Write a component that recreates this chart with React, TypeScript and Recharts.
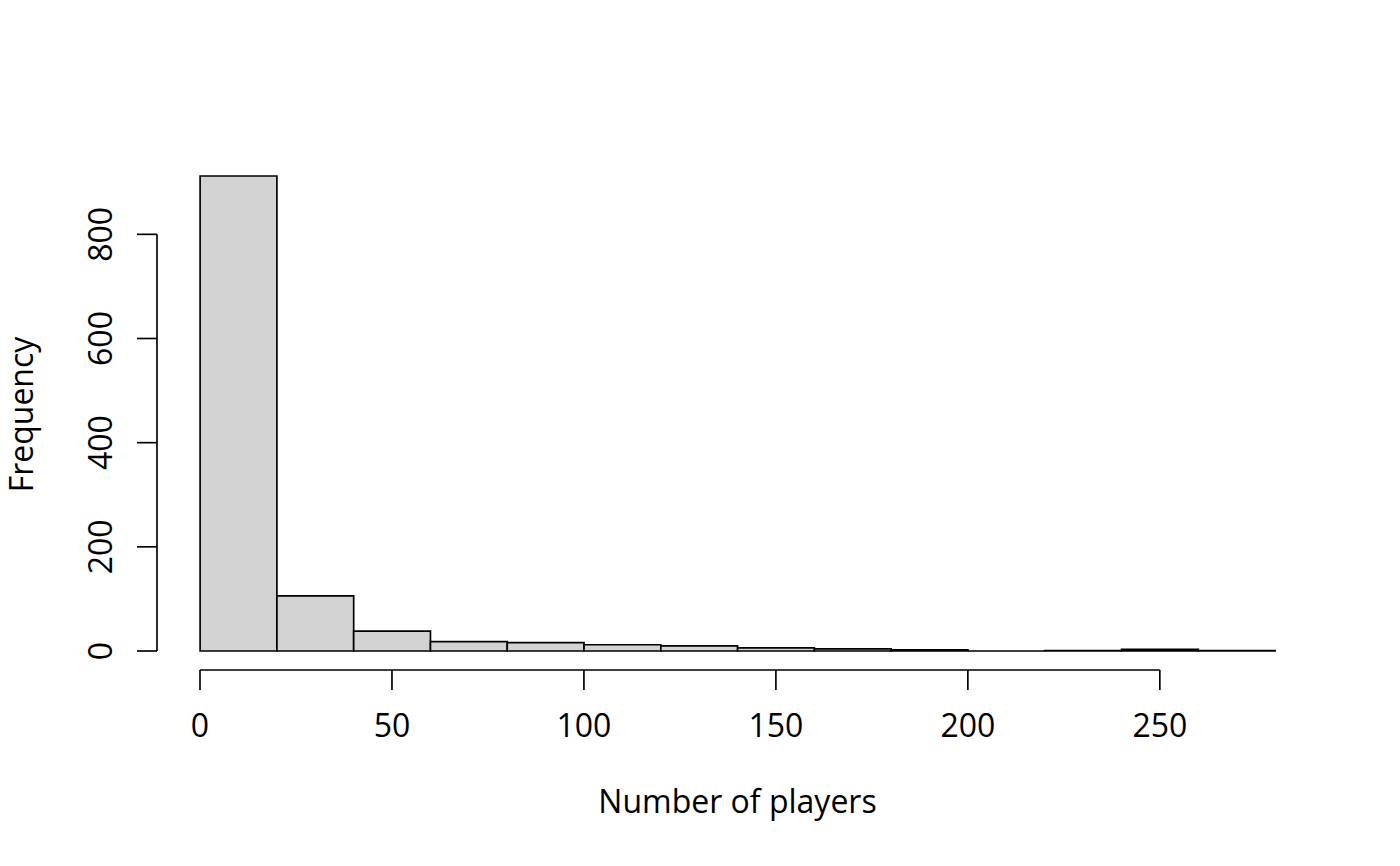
import React from 'react';
import { ComposedChart, Bar, XAxis, YAxis, ReferenceLine } from 'recharts';

const binStarts = [0, 20, 40, 60, 80, 100, 120, 140, 160, 180, 200, 220, 240, 260];
const binWidth = 20;
const frequencies = [912, 106, 38, 18, 16, 12, 10, 6, 4, 2, 0, 1, 3, 1];
const xTicks = [0, 50, 100, 150, 200, 250];
const yTicks = [0, 200, 400, 600, 800];
const xLabel = 'Number of players';
const yLabel = 'Frequency';

const data = binStarts.map((s, i) => ({ mid: s + binWidth / 2, freq: frequencies[i] }));

const xMin = -11.2;
const xMax = 291.2;
const yMax = Math.max(...frequencies);
const yLo = -0.04 * yMax;
const yHi = 1.04 * yMax;

const W = 1400;
const H = 866;
const PL = 157, PR = 82, PT = 157, PB = 196;
const AX = 1;
const M = { top: PT, right: PR, left: PL - AX, bottom: PB - AX };
const plotW = W - PL - PR;
const barPx = (binWidth / (xMax - xMin)) * plotW;

const FONT = '"Open Sans", "Noto Sans", sans-serif';
const FS = 32;
const LW = 1.67;

const HistShape = (props: any) => {
  const { x, y, width, height } = props;
  const cx = x + width / 2;
  const left = cx - barPx / 2;
  const d = `M${left},${y}h${barPx}v${height}h${-barPx}Z`;
  return <path d={d} fill="#d3d3d3" stroke="#000" strokeWidth={LW} />;
};

const XTick = (props: any) => {
  const { x, y, payload } = props;
  return (
    <g>
      <line x1={x} y1={y} x2={x} y2={y + 20} stroke="#000" strokeWidth={LW} />
      <text x={x} y={y + 67} textAnchor="middle" fontFamily={FONT} fontSize={FS} fill="#000">
        {payload.value}
      </text>
    </g>
  );
};

const YTick = (props: any) => {
  const { x, y, payload } = props;
  const tx = x - 45;
  return (
    <g>
      <line x1={x - 20} y1={y} x2={x} y2={y} stroke="#000" strokeWidth={LW} />
      <text
        x={tx}
        y={y}
        textAnchor="middle"
        transform={`rotate(-90 ${tx} ${y})`}
        fontFamily={FONT}
        fontSize={FS}
        fill="#000"
      >
        {payload.value}
      </text>
    </g>
  );
};

export default function App() {
  const yMid = (PT + H - PB) / 2 + 1;
  return (
    <div style={{ position: 'absolute', left: 0, top: 0, width: W, height: H, background: '#fff' }}>
      <ComposedChart width={W} height={H} data={data} margin={M} barCategoryGap={0}>
        <XAxis
          dataKey="mid"
          type="number"
          domain={[xMin, xMax]}
          ticks={xTicks}
          height={AX}
          axisLine={false}
          tickLine={false}
          tickSize={0}
          tickMargin={0}
          tick={<XTick />}
          interval={0}
          allowDataOverflow
        />
        <YAxis
          type="number"
          domain={[yLo, yHi]}
          ticks={yTicks}
          width={AX}
          axisLine={false}
          tickLine={false}
          tickSize={0}
          tickMargin={0}
          tick={<YTick />}
          interval={0}
          allowDataOverflow
        />
        <Bar dataKey="freq" shape={<HistShape />} isAnimationActive={false} />
        <ReferenceLine
          segment={[{ x: xTicks[0], y: yLo }, { x: xTicks[xTicks.length - 1], y: yLo }]}
          stroke="#000"
          strokeWidth={LW}
          ifOverflow="visible"
        />
        <ReferenceLine
          segment={[{ x: xMin, y: yTicks[0] }, { x: xMin, y: yTicks[yTicks.length - 1] }]}
          stroke="#000"
          strokeWidth={LW}
          ifOverflow="visible"
        />
      </ComposedChart>
      <svg style={{ position: 'absolute', left: 0, top: 0, pointerEvents: 'none' }} width={W} height={H}>
        <text
          x={PL + plotW / 2}
          y={813}
          textAnchor="middle"
          fontFamily={FONT}
          fontSize={FS}
          fill="#000"
        >
          {xLabel}
        </text>
        <text
          x={33}
          y={yMid}
          textAnchor="middle"
          transform={`rotate(-90 33 ${yMid})`}
          fontFamily={FONT}
          fontSize={FS}
          fill="#000"
        >
          {yLabel}
        </text>
      </svg>
    </div>
  );
}
